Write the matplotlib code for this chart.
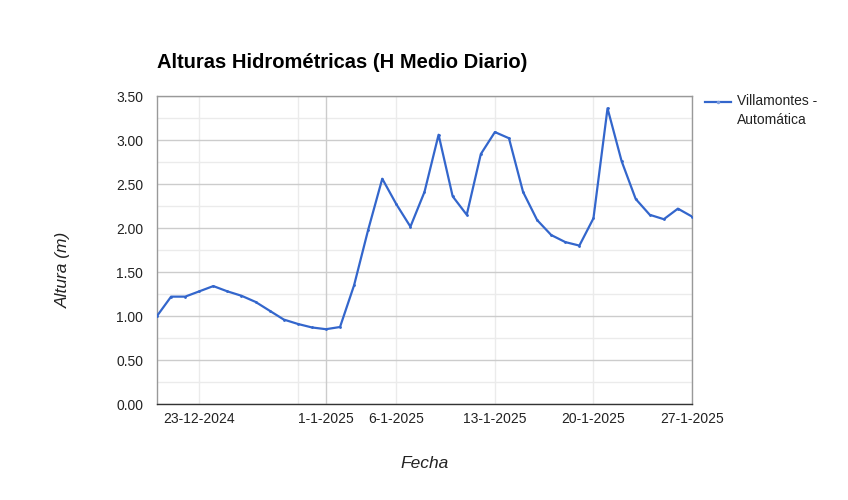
import matplotlib
matplotlib.use("Agg")
import matplotlib.pyplot as plt
from matplotlib.lines import Line2D
from matplotlib.ticker import MultipleLocator
import pandas as pd

plt.rcParams['font.family'] = ['Liberation Sans', 'DejaVu Sans']

start_date = "2024-12-20"
end_date = "2025-01-27"
alturas = [1.00, 1.22, 1.22, 1.28, 1.34, 1.28, 1.23, 1.16, 1.06, 0.96,
           0.91, 0.87, 0.85, 0.875, 1.35, 1.98, 2.56, 2.27, 2.015, 2.41,
           3.06, 2.36, 2.15, 2.84, 3.09, 3.02, 2.41, 2.09, 1.92, 1.84,
           1.80, 2.11, 3.36, 2.76, 2.33, 2.15, 2.10, 2.22, 2.13]
tick_dates = ["2024-12-23", "2025-01-01", "2025-01-06", "2025-01-13", "2025-01-20", "2025-01-27"]
tick_labels = ["23-12-2024", "1-1-2025", "6-1-2025", "13-1-2025", "20-1-2025", "27-1-2025"]
grid_dates = ["2024-12-23", "2024-12-30", "2025-01-06", "2025-01-13", "2025-01-20", "2025-01-27"]
month_line = "2025-01-01"
yticks = [0, 0.5, 1, 1.5, 2, 2.5, 3, 3.5]
serie = "Villamontes -\nAutomática"

fechas = pd.date_range(start_date, end_date, freq="D")

fig = plt.figure(figsize=(8.48, 5.0), dpi=100)
ax = fig.add_axes([157/848, 1-404/500, (692-157)/848, (404-96)/500])

ax.set_ylim(0, 3.5)
ax.yaxis.set_major_locator(MultipleLocator(0.5))
ax.yaxis.set_minor_locator(MultipleLocator(0.25))
ax.grid(axis='y', which='major', color='#cccccc', lw=1)
ax.grid(axis='y', which='minor', color='#ebebeb', lw=1)
for d in grid_dates:
    ax.axvline(pd.Timestamp(d), color='#ebebeb', lw=1, zorder=0.5)
ax.axvline(pd.Timestamp(month_line), color='#cccccc', lw=1, zorder=0.6)
ax.set_axisbelow(True)

ax.plot(fechas, alturas, color='#3366cc', lw=1.6, marker='o', markersize=1.0,
        zorder=3)

ax.set_xlim(pd.Timestamp(start_date), pd.Timestamp(end_date))
ax.set_xticks([pd.Timestamp(d) for d in tick_dates])
ax.set_xticklabels(tick_labels)
ax.set_yticks(yticks)
ax.set_yticklabels([f"{v:.2f}" for v in yticks])
ax.tick_params(axis='both', which='both', length=0, labelsize=10, colors='#222222')
ax.tick_params(axis='x', pad=6)
ax.tick_params(axis='y', pad=10)

for s in ['left', 'top', 'right']:
    ax.spines[s].set_color('#999999')
    ax.spines[s].set_linewidth(1)
ax.spines['bottom'].set_color('#333333')
ax.spines['bottom'].set_linewidth(1)

ax.set_ylabel("Altura (m)", fontsize=12.5, style='italic', color='#222222')
ax.yaxis.set_label_coords((71-157)/535, (404-270)/308)
ax.set_xlabel("Fecha", fontsize=12.5, style='italic', color='#222222')
ax.xaxis.set_label_coords(0.5, (404-456)/308)

fig.text(157/848, 1-62/500, "Alturas Hidrométricas (H Medio Diario)",
         fontsize=14.5, fontweight='bold', va='center', ha='left', color='#000000')

# legend (drawn manually to match top-aligned entry)
fig.add_artist(Line2D([705/848, 718/848, 731/848], [1-102/500] * 3, color='#3366cc',
                      lw=1.6, marker='o', markersize=1.5, markevery=[1],
                      markerfacecolor='#7f9fe0', markeredgecolor='#7f9fe0',
                      transform=fig.transFigure))
fig.text(737/848, 1-94/500, serie, fontsize=10, va='top', ha='left',
         color='#222222', linespacing=1.45)

fig.savefig("out.png", dpi=100)
